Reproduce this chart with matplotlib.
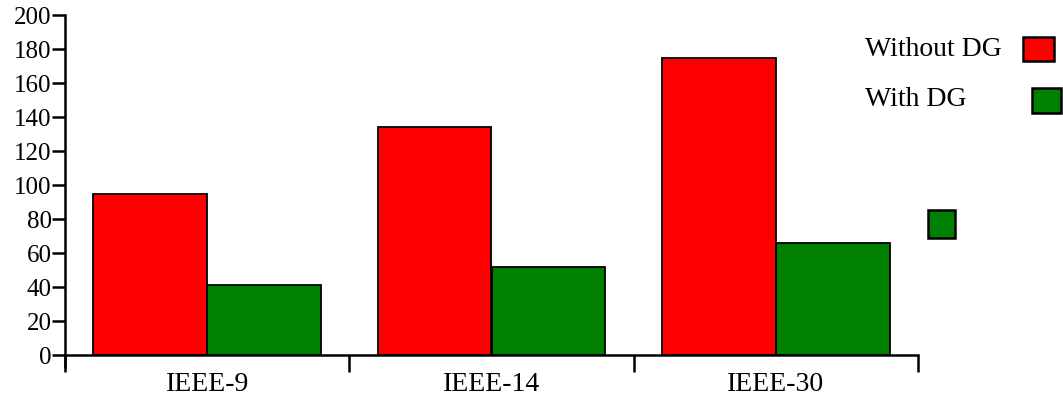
import numpy as np
import matplotlib.pyplot as plt
from matplotlib.patches import Rectangle

systems = ["IEEE-9", "IEEE-14", "IEEE-30"]
without_dg = [95, 134, 175]
with_dg = [41, 52, 66]
y_ticks = [0, 20, 40, 60, 80, 100, 120, 140, 160, 180, 200]

plt.rcParams["font.family"] = ["Liberation Serif", "DejaVu Serif"]

fig = plt.figure(figsize=(10.63, 3.99), dpi=100)
ax = fig.add_axes([65 / 1063, (399 - 367) / 399, 853 / 1063, (367 - 15) / 399])

x = np.arange(len(systems))
w = 0.4
ax.bar(x + 0.1, without_dg, width=w, align="edge", color="#ff0000",
       edgecolor="black", linewidth=1.3, label="Without DG")
ax.bar(x + 0.5, with_dg, width=w, align="edge", color="#008000",
       edgecolor="black", linewidth=1.3, label="With DG")

ax.set_xlim(0, 3)
ax.set_ylim(-7, 200)
for s in ["top", "right"]:
    ax.spines[s].set_visible(False)
ax.spines["bottom"].set_position(("data", 0))
ax.spines["left"].set_linewidth(1.8)
ax.spines["bottom"].set_linewidth(1.8)

ax.set_yticks(y_ticks)
ax.tick_params(axis="y", length=9.5, width=1.8, labelsize=18, pad=0)
ax.set_xticks(np.arange(len(systems) + 1))
ax.set_xticklabels([])
ax.tick_params(axis="x", which="major", direction="out", length=12, width=1.8)
ax.set_xticks(x + 0.5, minor=True)
ax.set_xticklabels(systems, minor=True, fontsize=20)
ax.tick_params(axis="x", which="minor", length=0, pad=12)

# manual legend (as in the original)
fig.text(865 / 1063, 1 - 50 / 399, "Without DG", fontsize=20, va="center", ha="left")
fig.text(865 / 1063, 1 - 100 / 399, "With DG", fontsize=20, va="center", ha="left")
for (x0, y0, bw, bh, c) in [(1023, 37, 31, 24, "#ff0000"), (1032, 88, 29, 25, "#008000"),
                            (928, 210, 27, 28, "#008000")]:
    fig.patches.append(Rectangle((x0 / 1063, 1 - (y0 + bh) / 399), bw / 1063, bh / 399,
                                 transform=fig.transFigure, facecolor=c,
                                 edgecolor="black", linewidth=1.8))

fig.savefig("out.png", dpi=100)
